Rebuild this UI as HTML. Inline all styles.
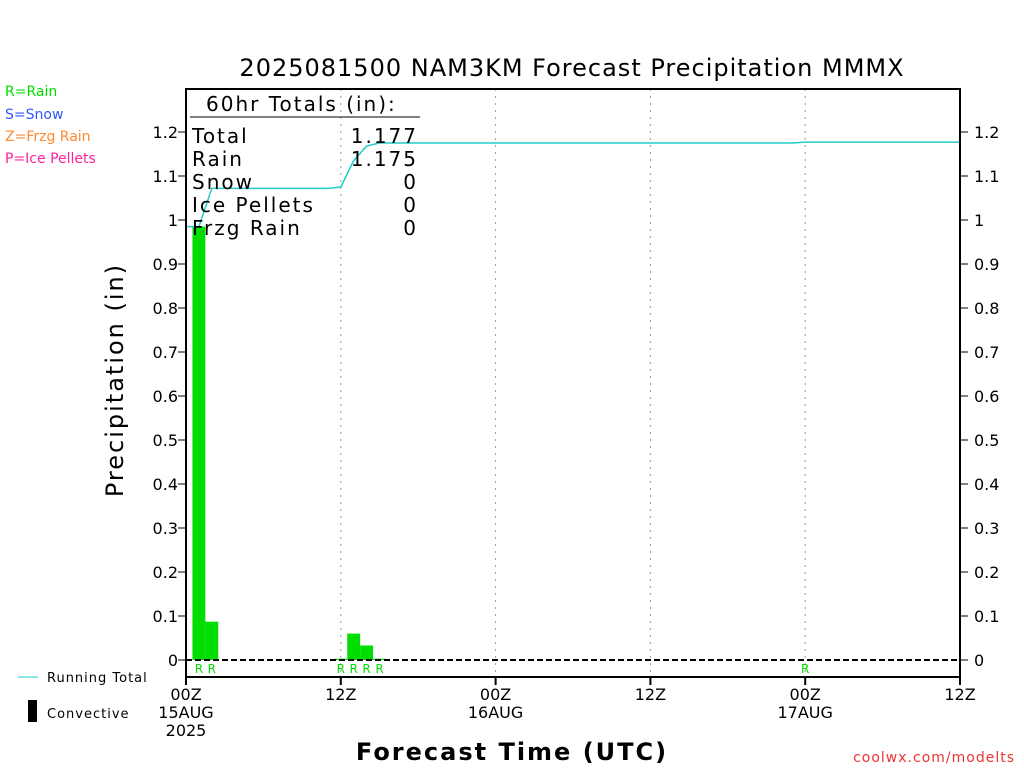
<!DOCTYPE html>
<html><head><meta charset="utf-8"><style>
body{margin:0;background:#fff;width:1024px;height:768px;overflow:hidden}
svg text{font-family:"DejaVu Sans","Liberation Sans",sans-serif}
</style></head><body>
<svg id="c" width="1024" height="768" xmlns="http://www.w3.org/2000/svg">
<text x="572" y="76" font-size="24" text-anchor="middle" letter-spacing="1">2025081500 NAM3KM Forecast Precipitation MMMX</text>
<text x="5" y="96" font-size="14" fill="#00dd00">R=Rain</text>
<text x="5" y="119" font-size="14" fill="#3355ff">S=Snow</text>
<text x="5" y="141" font-size="14" fill="#ff8833">Z=Frzg Rain</text>
<text x="5" y="163" font-size="14" fill="#ff2299">P=Ice Pellets</text>
<text x="123" y="380" font-size="24" text-anchor="middle" transform="rotate(-90 123 380)" letter-spacing="2">Precipitation (in)</text>
<text x="512" y="760" font-size="24" font-weight="bold" text-anchor="middle" letter-spacing="2">Forecast Time (UTC)</text>
<text x="1015" y="762" font-size="14" fill="#ee3333" text-anchor="end" letter-spacing="1">coolwx.com/modelts</text>
<line x1="18" y1="677" x2="38" y2="677" stroke="#22cccc"/>
<text x="47" y="682" font-size="13" letter-spacing="1">Running Total</text>
<rect x="28" y="700" width="9" height="22" fill="#000"/>
<text x="47" y="718" font-size="13" letter-spacing="1">Convective</text>
<g id="grid"></g><g id="bars"></g><g id="line"></g>
<line x1="186" y1="660" x2="960" y2="660" stroke="#000" stroke-width="2" stroke-dasharray="6,3"/>
<rect x="186" y="89" width="774" height="588" fill="none" stroke="#000" stroke-width="2"/>
<g id="axes"></g>
<g font-size="20" letter-spacing="2" fill="#000">
<text x="206" y="111">60hr Totals (in):</text>
<line x1="190" y1="117" x2="420" y2="117" stroke="#000"/>
<text x="192" y="143">Total</text><text x="418" y="143" text-anchor="end">1.177</text>
<text x="192" y="166">Rain</text><text x="418" y="166" text-anchor="end">1.175</text>
<text x="192" y="189">Snow</text><text x="418" y="189" text-anchor="end">0</text>
<text x="192" y="212">Ice Pellets</text><text x="418" y="212" text-anchor="end">0</text>
<text x="192" y="235">Frzg Rain</text><text x="418" y="235" text-anchor="end">0</text>
</g>
</svg>
<script>
const hours=[1,2,12,13,14,15];
const precip=[0.985,0.087,0.003,0.060,0.033,0.003];
const rainLabelHours=[1,2,12,13,14,15,48];
const totalHours=[0,1,2,11,12,13,14,15,47,48,60];
const totalValues=[0.985,0.985,1.072,1.072,1.075,1.135,1.168,1.175,1.175,1.177,1.177];
const yTicks=[0,0.1,0.2,0.3,0.4,0.5,0.6,0.7,0.8,0.9,1,1.1,1.2];
const xTickHours=[0,12,24,36,48,60];
const xTickLabels=[["00Z","15AUG","2025"],["12Z"],["00Z","16AUG"],["12Z"],["00Z","17AUG"],["12Z"]];
const NS="http://www.w3.org/2000/svg";
const X=h=>186+h*774/60, Y=v=>660-v*440;
function mk(t,a,p){const e=document.createElementNS(NS,t);for(const k in a)e.setAttribute(k,a[k]);p.appendChild(e);return e;}
const grid=document.getElementById('grid'),bars=document.getElementById('bars'),line=document.getElementById('line'),axes=document.getElementById('axes');
xTickHours.forEach((h,i)=>{
 if(h>0&&h<60){const g=mk('line',{x1:X(h),x2:X(h),y1:89,y2:677,stroke:'#999','stroke-dasharray':'2,5'},grid);
 
 }
 const t=mk('line',{x1:X(h),x2:X(h),y1:677,y2:685,stroke:'#000','stroke-width':2},axes);
 
 
 xTickLabels[i].forEach((s,j)=>{const tx=mk('text',{x:X(h),y:700+j*18,'font-size':16,'text-anchor':'middle'},axes);tx.textContent=s;
 
 });
});
yTicks.forEach(v=>{
 [[178,186,178,'end'],[960,968,974,'start']].forEach(([a,b,tx,an])=>{
  const l=mk('line',{x1:a,x2:b,y1:Y(v),y2:Y(v),stroke:'#000'},axes);
  
  
  const t=mk('text',{x:tx,y:Y(v)+6,'font-size':16,'text-anchor':an},axes);t.textContent=String(v);
  
  
 });
});
hours.forEach((h,i)=>{
 const w=774/60;const b=mk('rect',{x:X(h)-w/2,y:Y(precip[i]),width:w,height:660-Y(precip[i]),fill:'#00dd00'},bars);
 
 
});
rainLabelHours.forEach(h=>{const t=mk('text',{x:X(h),y:673,'font-size':12,fill:'#00dd00','text-anchor':'middle'},bars);t.textContent='R';
 
 });
const pl=mk('polyline',{points:totalHours.map((h,i)=>X(h)+','+Y(totalValues[i])).join(' '),fill:'none',stroke:'#22cccc','stroke-width':1.5},line);


</script>
</body></html>
